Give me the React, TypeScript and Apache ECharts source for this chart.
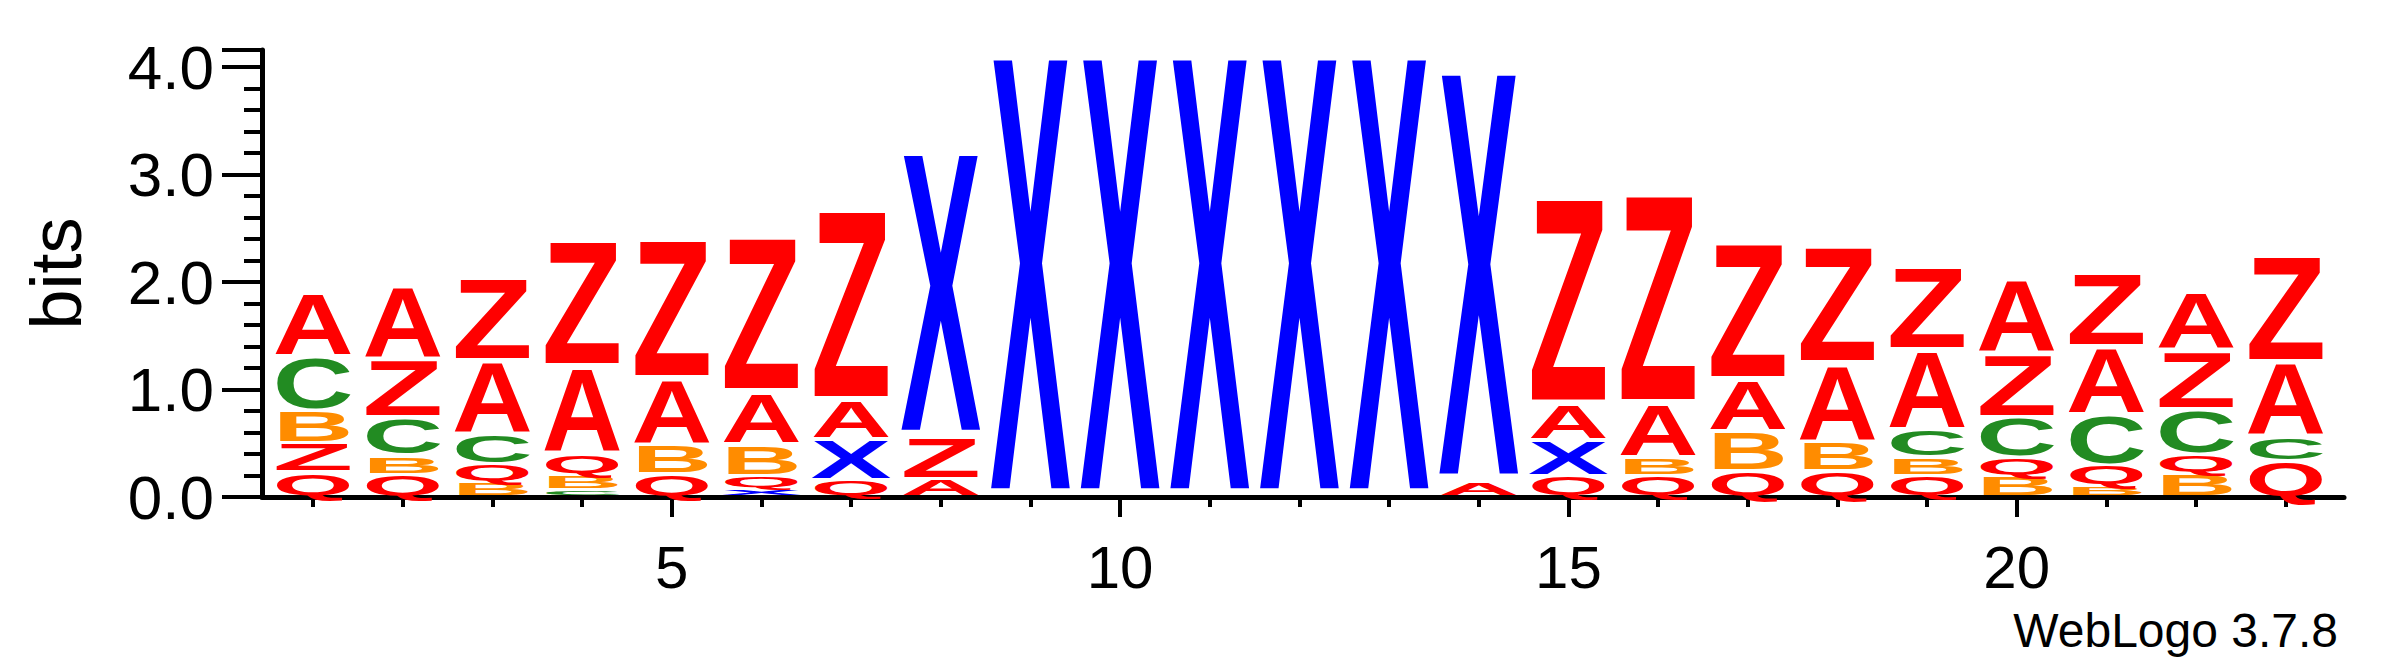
import React, { useEffect, useRef } from 'react';
import * as echarts from 'echarts';

// stacks, bottom to top: [letter, bits]
const stacks: Array<Array<[string, number]>> = [
  [['Q', 0.23], ['Z', 0.27], ['B', 0.31], ['C', 0.5], ['A', 0.6]],
  [['Q', 0.21], ['B', 0.18], ['C', 0.35], ['Z', 0.55], ['A', 0.68]],
  [['B', 0.14], ['Q', 0.17], ['C', 0.28], ['A', 0.68], ['Z', 0.78]],
  [['C', 0.07], ['B', 0.14], ['Q', 0.19], ['A', 0.81], ['Z', 1.19]],
  [['Q', 0.21], ['B', 0.27], ['A', 0.62], ['Z', 1.31]],
  [['X', 0.08], ['Q', 0.12], ['B', 0.29], ['A', 0.48], ['Z', 1.46]],
  [['Q', 0.16], ['X', 0.38], ['A', 0.36], ['Z', 1.8]],
  [['A', 0.17], ['Z', 0.4], ['X', 2.68]],
  [['X', 4.17]],
  [['X', 4.17]],
  [['X', 4.17]],
  [['X', 4.17]],
  [['X', 4.17]],
  [['A', 0.14], ['X', 3.88]],
  [['Q', 0.2], ['X', 0.33], ['A', 0.33], ['Z', 1.95]],
  [['Q', 0.2], ['B', 0.17], ['A', 0.5], ['Z', 1.98]],
  [['Q', 0.24], ['B', 0.37], ['A', 0.48], ['Z', 1.29]],
  [['Q', 0.24], ['B', 0.28], ['A', 0.72], ['Z', 1.1]],
  [['Q', 0.2], ['B', 0.17], ['C', 0.26], ['A', 0.74], ['Z', 0.78]],
  [['B', 0.2], ['Q', 0.17], ['C', 0.37], ['Z', 0.6], ['A', 0.69]],
  [['B', 0.1], ['Q', 0.2], ['C', 0.47], ['A', 0.63], ['Z', 0.7]],
  [['B', 0.23], ['Q', 0.17], ['C', 0.41], ['Z', 0.55], ['A', 0.55]],
  [['Q', 0.34], ['C', 0.22], ['A', 0.7], ['Z', 1.0]],
];

const letterColors: Record<string, string> = {
  A: '#ff0000', Z: '#ff0000', Q: '#ff0000',
  B: '#ff8c00', C: '#228b22', X: '#0000ff',
};
// glyph widths of bold 100px Liberation Sans
const glyphWidth: Record<string, number> = { A: 72.2, B: 72.2, C: 72.2, Q: 77.8, X: 66.7, Z: 61.1 };
const CAP = 71.6;

const minorTicks = Array.from({ length: 23 }, (_, i) => i + 1);
const majorTicks = [5, 10, 15, 20];

export default function App() {
  const ref = useRef<HTMLDivElement>(null);

  useEffect(() => {
    if (!ref.current) return;
    const chart = echarts.init(ref.current, null, { renderer: 'svg' });

    const data: any[] = [];
    stacks.forEach((stack, i) => {
      let base = 0;
      stack.forEach(([letter, h]) => {
        data.push([i + 1, base, base + h, letter]);
        base += h;
      });
    });

    const font = 'Liberation Sans, Arial, sans-serif';

    chart.setOption({
      animation: false,
      grid: { left: 254, right: 31, top: 42, bottom: 162 },
      xAxis: [
        {
          type: 'value', min: 0.43, max: 23.65,
          axisLine: { show: true, lineStyle: { color: '#000', width: 5 } },
          axisTick: { show: true, customValues: minorTicks, length: 10, lineStyle: { color: '#000', width: 4 } },
          axisLabel: { show: false },
          splitLine: { show: false },
        },
        {
          type: 'value', min: 0.43, max: 23.65, position: 'bottom',
          axisLine: { show: false },
          axisTick: { show: true, customValues: majorTicks, length: 20, lineStyle: { color: '#000', width: 4 } },
          axisLabel: { customValues: majorTicks, color: '#000', fontSize: 60, fontFamily: font, margin: 40 },
          splitLine: { show: false },
        },
      ],
      yAxis: {
        type: 'value', min: 0, max: 4.16, interval: 1,
        axisLine: { show: true, lineStyle: { color: '#000', width: 5 } },
        axisTick: { show: true, length: 40, lineStyle: { color: '#000', width: 4 } },
        minorTick: { show: true, splitNumber: 5, length: 18, lineStyle: { color: '#000', width: 4 } },
        axisLabel: { color: '#000', fontSize: 62, fontFamily: font, margin: 48, showMaxLabel: false,
          formatter: (v: number) => v.toFixed(1) },
        splitLine: { show: false },
        name: 'bits', nameLocation: 'middle', nameGap: 170, nameRotate: 90,
        nameTextStyle: { color: '#000', fontSize: 72, fontFamily: font },
      },
      graphic: [{
        type: 'text', right: 37, top: 598,
        style: { text: 'WebLogo 3.7.8', fill: '#000', font: `48px ${font}` },
      }],
      series: [{
        type: 'custom',
        xAxisIndex: 0,
        data,
        clip: false,
        renderItem: (params: any, api: any) => {
          const pos = api.value(0);
          const letter = data[params.dataIndex][3];
          const bl = api.coord([pos - 0.45, api.value(1)]);
          const tr = api.coord([pos + 0.45, api.value(2)]);
          const inset = 1.5;
          const h = Math.max(bl[1] - tr[1] - inset * 2, 0.5);
          const w = tr[0] - bl[0];
          return {
            type: 'text',
            x: (bl[0] + tr[0]) / 2,
            y: (bl[1] + tr[1]) / 2,
            scaleX: w / glyphWidth[letter],
            scaleY: h / CAP,
            style: {
              text: letter, fill: letterColors[letter],
              font: `bold 100px ${font}`,
              align: 'center', verticalAlign: 'middle',
            },
          };
        },
      }],
    });

    return () => chart.dispose();
  }, []);

  return <div ref={ref} style={{ width: 2367, height: 651 }} />;
}
